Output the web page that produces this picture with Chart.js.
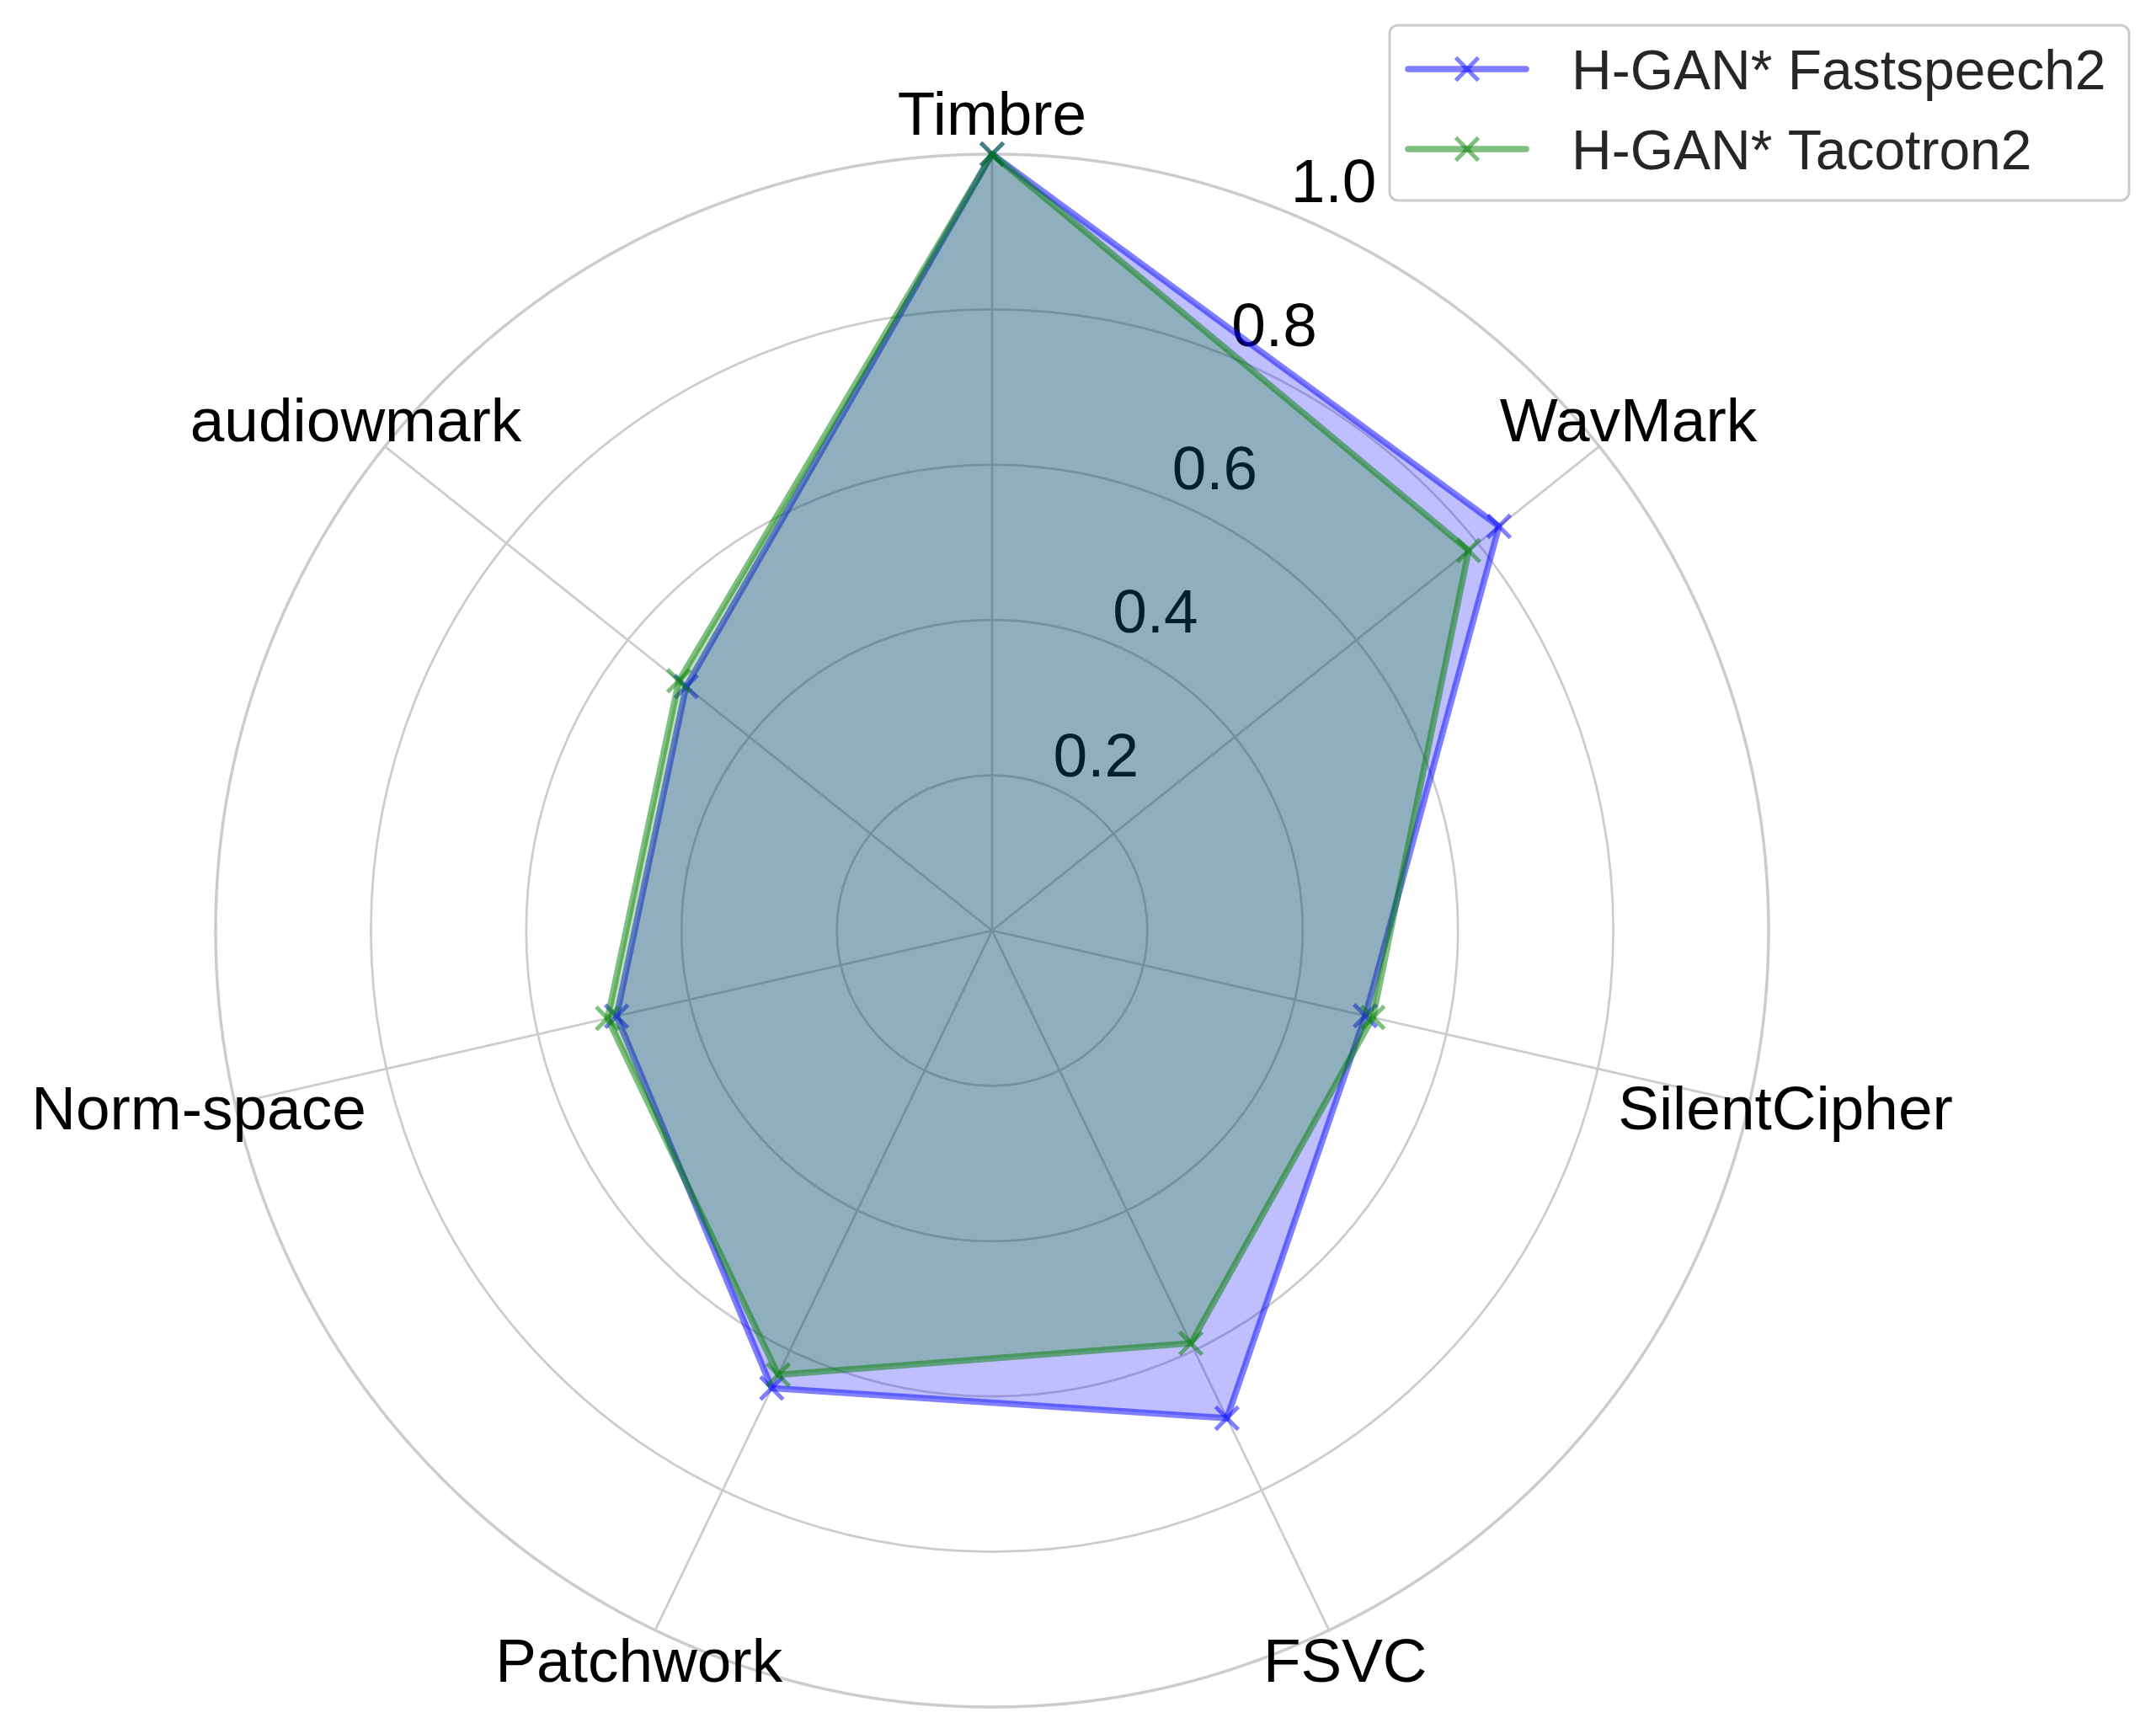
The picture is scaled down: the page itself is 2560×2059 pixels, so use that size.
<!DOCTYPE html>
<html>
<head>
<meta charset="utf-8">
<script src="https://cdn.jsdelivr.net/npm/chart.js@4.4.1/dist/chart.umd.min.js"></script>
<style>
  html, body { margin: 0; padding: 0; background: #fff; }
  #wrap { width: 2560px; height: 2059px; }
</style>
</head>
<body>
<div id="wrap"><canvas id="chart" width="2560" height="2059"></canvas></div>
<script>
const categories = ['Timbre', 'WavMark', 'SilentCipher', 'FSVC', 'Patchwork', 'Norm-space', 'audiowmark'];
const fastspeech2 = [1.0, 0.835, 0.493, 0.697, 0.654, 0.496, 0.504];
const tacotron2 = [1.0, 0.785, 0.503, 0.590, 0.635, 0.508, 0.516];
const radialTicks = [0.2, 0.4, 0.6, 0.8, 1.0];
const seriesNames = ['H-GAN* Fastspeech2', 'H-GAN* Tacotron2'];

const FONT = "'Liberation Sans', Arial, sans-serif";
const BLUE_LINE = 'rgba(0,0,255,0.5)';
const BLUE_FILL = 'rgba(0,0,255,0.25)';
const GREEN_LINE = 'rgba(0,128,0,0.5)';
const GREEN_FILL = 'rgba(0,128,0,0.25)';
const LINE_W = 7.5;
const MARK_W = 5;

// radial tick labels, drawn under the fills like matplotlib does
const rLabels = {
    id: 'rLabels',
    beforeDatasetsDraw(chart) {
        const s = chart.scales.r;
        const ctx = chart.ctx;
        const a = 22.5 * Math.PI / 180;
        ctx.save();
        ctx.font = '73px ' + FONT;
        ctx.fillStyle = '#000';
        ctx.textAlign = 'left';
        ctx.textBaseline = 'alphabetic';
        radialTicks.forEach(v => {
            const d = s.getDistanceFromCenterForValue(v);
            const x = s.xCenter + d * Math.sin(a);
            const y = s.yCenter - d * Math.cos(a);
            ctx.fillText(v.toFixed(1), x + 2, y - 13);
        });
        ctx.restore();
    }
};

// category labels around the outside
const catLabels = {
    id: 'catLabels',
    afterDatasetsDraw(chart) {
        const s = chart.scales.r;
        const ctx = chart.ctx;
        ctx.save();
        ctx.font = '73px ' + FONT;
        ctx.fillStyle = '#000';
        ctx.textAlign = 'center';
        ctx.textBaseline = 'alphabetic';
        chart.data.labels.forEach((c, i) => {
            const p = s.getPointPosition(i, s.drawingArea * 1.048);
            ctx.fillText(c, p.x, p.y + 21);
        });
        ctx.restore();
    }
};

// matplotlib style legend box in the top right corner
const boxLegend = {
    id: 'boxLegend',
    afterDraw(chart) {
        const ctx = chart.ctx;
        const bx = 1650, by = 30, bw = 878, bh = 208, rad = 10;
        ctx.save();
        ctx.beginPath();
        ctx.roundRect(bx, by, bw, bh, rad);
        ctx.fillStyle = 'rgba(255,255,255,0.8)';
        ctx.fill();
        ctx.lineWidth = 3;
        ctx.strokeStyle = '#cccccc';
        ctx.stroke();

        const rows = [82, 177];
        chart.data.datasets.forEach((ds, i) => {
            const y = rows[i];
            ctx.strokeStyle = ds.borderColor;
            ctx.lineWidth = LINE_W;
            ctx.lineCap = 'round';
            ctx.beginPath();
            ctx.moveTo(1672, y);
            ctx.lineTo(1812, y);
            ctx.stroke();
            // x marker
            const m = 13.4;
            ctx.lineWidth = MARK_W;
            ctx.lineCap = 'butt';
            ctx.beginPath();
            ctx.moveTo(1742 - m, y - m);
            ctx.lineTo(1742 + m, y + m);
            ctx.moveTo(1742 - m, y + m);
            ctx.lineTo(1742 + m, y - m);
            ctx.stroke();

            ctx.fillStyle = '#262626';
            ctx.font = '66px ' + FONT;
            ctx.textAlign = 'left';
            ctx.textBaseline = 'alphabetic';
            ctx.fillText(ds.label, 1866, y + 24);
        });
        ctx.restore();
    }
};

const ctx = document.getElementById('chart').getContext('2d');

new Chart(ctx, {
    type: 'radar',
    data: {
        labels: categories,
        datasets: [
            {
                label: seriesNames[0],
                data: fastspeech2,
                borderColor: BLUE_LINE,
                backgroundColor: BLUE_FILL,
                fill: true,
                borderWidth: LINE_W,
                borderJoinStyle: 'round',
                pointStyle: 'crossRot',
                pointRadius: 19,
                pointBorderWidth: MARK_W,
                pointBorderColor: BLUE_LINE,
                pointBackgroundColor: BLUE_LINE,
                order: 2
            },
            {
                label: seriesNames[1],
                data: tacotron2,
                borderColor: GREEN_LINE,
                backgroundColor: GREEN_FILL,
                fill: true,
                borderWidth: LINE_W,
                borderJoinStyle: 'round',
                pointStyle: 'crossRot',
                pointRadius: 19,
                pointBorderWidth: MARK_W,
                pointBorderColor: GREEN_LINE,
                pointBackgroundColor: GREEN_LINE,
                order: 1
            }
        ]
    },
    options: {
        responsive: false,
        animation: false,
        devicePixelRatio: 1,
        layout: {
            padding: { left: 256, top: 183, right: 460, bottom: 32 }
        },
        plugins: {
            legend: { display: false },
            tooltip: { enabled: false }
        },
        elements: {
            line: { tension: 0 }
        },
        scales: {
            r: {
                min: 0,
                max: 1,
                ticks: { display: false, stepSize: 0.2 },
                pointLabels: { display: false },
                grid: {
                    circular: true,
                    color: '#cccccc',
                    lineWidth: (c) => (c.tick && c.tick.value > 0.99 ? 3.5 : 2.7)
                },
                angleLines: { color: '#cccccc', lineWidth: 2.7 }
            }
        }
    },
    plugins: [rLabels, catLabels, boxLegend]
});
</script>
</body>
</html>
